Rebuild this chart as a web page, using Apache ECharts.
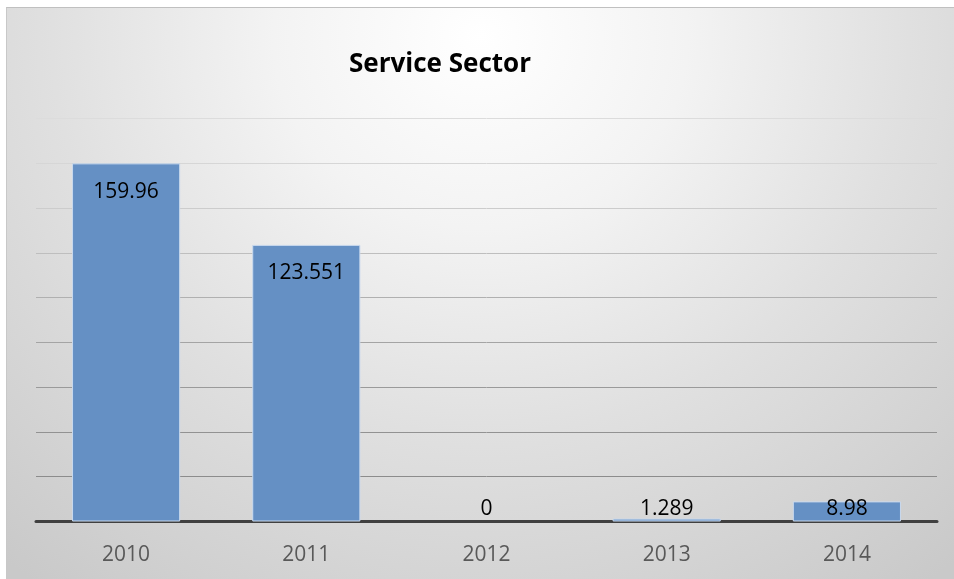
<!DOCTYPE html>
<html>
<head>
<meta charset="utf-8">
<script src="https://cdn.jsdelivr.net/npm/echarts@6/dist/echarts.min.js"></script>
<style>
    html, body { margin: 0; padding: 0; background: #ffffff; }
    #bg {
        position: absolute; left: 6px; top: 7px; width: 948px; height: 572px;
        border-top: 1px solid #c0c0c0; border-left: 1px solid #c8c8c8; box-sizing: border-box;
        background: radial-gradient(ellipse 78% 120% at 50% 5%, #ffffff 0%, #f3f3f3 28%, #e0e0e0 58%, #c9c9c9 100%);
    }
    #chartWrapper { position: absolute; left: 0; top: 0; width: 954px; height: 579px; }
</style>
</head>
<body>
<div id="bg"></div>
<div id="chartWrapper"></div>
<script>
let years = ['2010', '2011', '2012', '2013', '2014'];
let values = [159.96, 123.551, 0, 1.289, 8.98];
let labels = ['159.96', '123.551', '0', '1.289', '8.98'];

let myChart = echarts.init(document.getElementById('chartWrapper'));

// 大的柱子标签放在内部顶端, 小的放在底部上方
let seriesData = values.map(function (v, i) {
    let big = v > 20;
    return {
        value: v,
        itemStyle: { borderWidth: v === 0 ? 0 : 1 },
        label: {
            position: big ? 'insideTop' : 'insideBottom',
            distance: big ? 18 : 2,
            formatter: labels[i]
        }
    };
});

let option = {
    animation: false,
    title: {
        text: 'Service Sector',
        left: 344,
        top: 47,
        textStyle: {
            fontFamily: 'Open Sans',
            fontWeight: 'bold',
            fontSize: 26,
            color: '#000000'
        }
    },
    grid: {
        left: 36,
        right: 17,
        top: 118.5,
        bottom: 57.5
    },
    xAxis: {
        type: 'category',
        data: years,
        axisTick: { show: false },
        axisLine: {
            lineStyle: { color: '#404040', width: 3 }
        },
        axisLabel: {
            margin: 23,
            fontFamily: 'Open Sans',
            fontSize: 21,
            color: '#595959'
        }
    },
    yAxis: {
        type: 'value',
        min: 0,
        max: 180,
        interval: 20,
        axisLabel: { show: false },
        axisLine: { show: false },
        axisTick: { show: false },
        splitLine: {
            // 网格线从下往上逐渐变浅
            lineStyle: {
                color: ['#404040', '#8c8c8c', '#929292', '#9a9a9a', '#a4a4a4',
                    '#b0b0b0', '#bebebe', '#cccccc', '#d6d6d6', '#dcdcdc'],
                width: 1
            }
        }
    },
    series: [{
        type: 'bar',
        barCategoryGap: '40%',
        itemStyle: {
            color: '#6590c4',
            borderColor: '#c9d9ee',
            borderWidth: 1
        },
        label: {
            show: true,
            fontFamily: 'Open Sans',
            fontSize: 21,
            color: '#000000'
        },
        data: seriesData
    }]
};

myChart.setOption(option);
</script>
</body>
</html>
